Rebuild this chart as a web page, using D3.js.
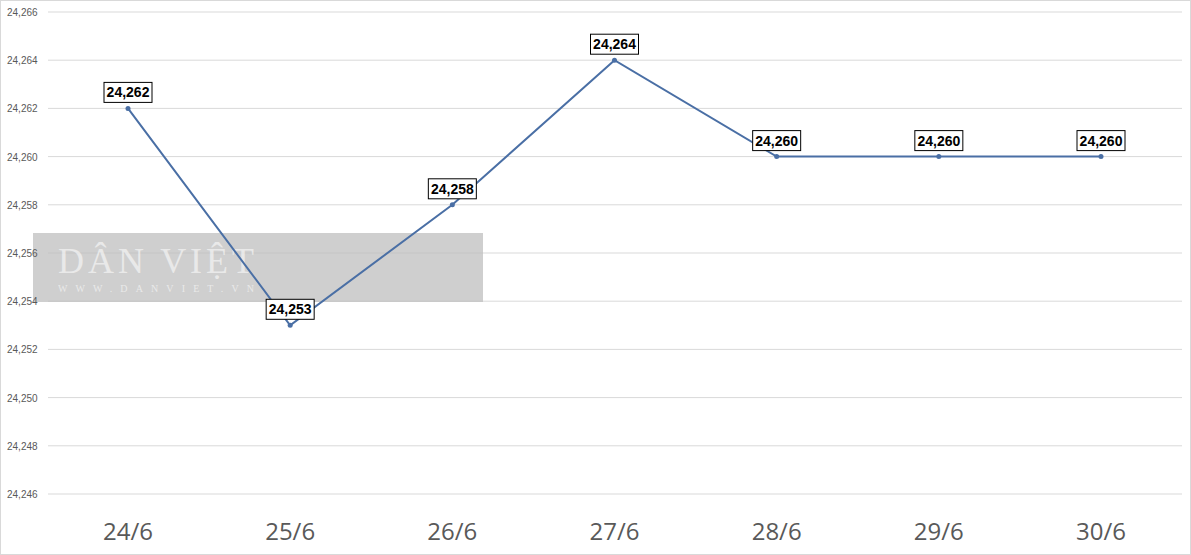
<!DOCTYPE html>
<html><head><meta charset="utf-8">
<script src="https://d3js.org/d3.v7.min.js"></script>
<style>body{margin:0;background:#fff}</style></head>
<body><svg id="c" width="1191" height="555"></svg>
<script>
const categories=["24/6","25/6","26/6","27/6","28/6","29/6","30/6"];
const values=[24262,24253,24258,24264,24260,24260,24260];
const yTicks=[24246,24248,24250,24252,24254,24256,24258,24260,24262,24264,24266];
const svg=d3.select("#c");
const x=d3.scalePoint().domain(categories).range([128,1101]);
const y=d3.scaleLinear().domain([24246,24266]).range([494,12]);
const fmt=d3.format(",");
svg.append("rect").attr("x",0.5).attr("y",0.5).attr("width",1190).attr("height",554).attr("fill","none").attr("stroke","#d9d9d9");
svg.append("g").selectAll("line").data(yTicks).join("line")
 .attr("x1",48).attr("x2",1182).attr("y1",d=>y(d)).attr("y2",d=>y(d)).attr("stroke","#d9d9d9");
svg.append("g").selectAll("text").data(categories).join("text")
 .attr("x",d=>x(d)).attr("y",540).attr("text-anchor","middle").text(d=>d)
 .attr("font-family","Open Sans, DejaVu Sans").attr("font-size",24).attr("fill","#595959");
const wm=svg.append("g");
wm.append("rect").attr("x",33).attr("y",233).attr("width",450).attr("height",69).attr("fill","#bfbfbf").attr("opacity",0.75);
wm.append("text").attr("x",58).attr("y",273).text("DÂN VIỆT").attr("font-family","Liberation Serif").attr("font-size",36).attr("textLength",196).attr("fill","#fff").attr("opacity",0.55);
wm.append("text").attr("x",58).attr("y",292).text("WWW.DANVIET.VN").attr("font-family","Liberation Serif").attr("font-size",10).attr("textLength",196).attr("fill","#fff").attr("opacity",0.55);
svg.append("g").selectAll("text").data(yTicks).join("text")
 .attr("x",7).attr("y",d=>y(d)+4).text(fmt).attr("font-family","Liberation Sans, Arial").attr("font-size",10).attr("fill","#595959");
const pts=categories.map((c,i)=>[x(c),y(values[i])]);
svg.append("path").attr("d",d3.line()(pts)).attr("fill","none").attr("stroke","#4a6fa5").attr("stroke-width",2);
svg.append("g").selectAll("circle").data(pts).join("circle").attr("cx",d=>d[0]).attr("cy",d=>d[1]).attr("r",2.5).attr("fill","#4a6fa5");
const lg=svg.append("g").selectAll("g").data(categories).join("g").attr("transform",(c,i)=>`translate(${x(c)},${y(values[i])-16})`);
lg.append("rect").attr("x",-24).attr("y",-10).attr("width",48).attr("height",20).attr("fill","#fff").attr("stroke","#000");
lg.append("text").attr("y",5).attr("text-anchor","middle").text((c,i)=>fmt(values[i]))
 .attr("font-family","Liberation Sans, Arial").attr("font-weight","bold").attr("font-size",14).attr("fill","#000");
</script></body></html>
